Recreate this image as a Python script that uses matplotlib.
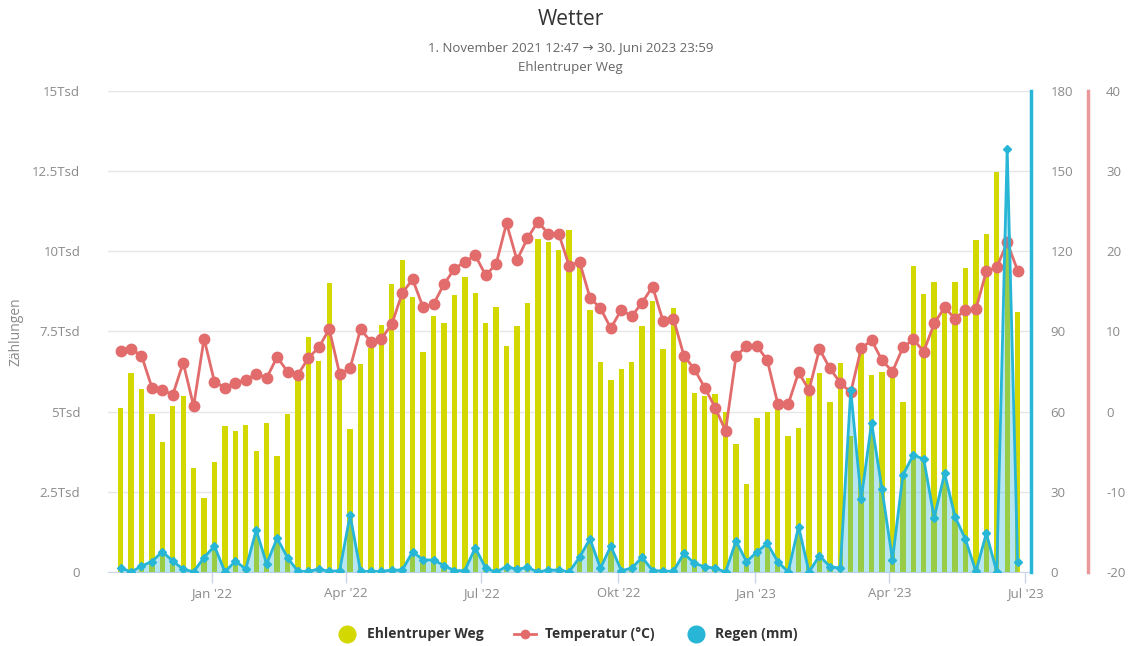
import matplotlib
matplotlib.use("Agg")
import matplotlib.pyplot as plt
from matplotlib.lines import Line2D
import pandas as pd
import numpy as np

plt.rcParams['font.family'] = ['Open Sans', 'DejaVu Sans']
plt.rcParams['axes.unicode_minus'] = False

# ---------------- Daten ----------------
wochen = pd.date_range("2021-11-01", periods=87, freq="7D")

zaehlungen = [5125, 6200, 5710, 4920, 4065, 5180, 5490, 3235, 2300, 3440,
              4555, 4400, 4585, 3785, 4640, 3630, 4920, 6150, 7320, 6580,
              9005, 6200, 4450, 6480, 6975, 7700, 8985, 9730, 8590, 6850,
              7985, 7760, 8640, 9210, 8690, 7760, 8275, 7060, 7670, 8400,
              10385, 10280, 10045, 10670, 9650, 8170, 6560, 5990, 6330, 6560,
              7670, 8450, 6945, 8245, 6850, 5575, 5490, 5540, 5000, 3980,
              2735, 4790, 5000, 5210, 4250, 4480, 6060, 6215, 5290, 6510,
              4240, 6820, 6145, 6250, 6200, 5310, 9555, 8660, 9055, 8150,
              9055, 9470, 10355, 10545, 12465, 10250, 8120]

temperatur = [7.6, 7.8, 7.0, 3.0, 2.7, 2.1, 6.1, 0.7, 9.1, 3.7,
              3.0, 3.6, 4.0, 4.7, 4.2, 6.8, 5.0, 4.6, 6.7, 8.0,
              10.3, 4.7, 5.4, 10.3, 8.7, 9.1, 10.9, 14.8, 16.5, 13.0,
              13.4, 15.9, 17.8, 18.7, 19.5, 17.0, 18.4, 23.5, 18.9, 21.6,
              23.7, 22.2, 22.2, 18.2, 18.7, 14.2, 12.9, 10.4, 12.7, 11.9,
              13.6, 15.6, 11.3, 11.6, 7.0, 5.3, 3.0, 0.5, -2.4, 6.9,
              8.2, 8.2, 6.4, 1.0, 0.9, 4.9, 2.7, 7.8, 5.4, 3.6,
              2.4, 7.9, 8.9, 6.4, 5.0, 8.0, 9.0, 7.5, 11.0, 13.0,
              11.6, 12.7, 12.8, 17.5, 18.0, 21.1, 17.6]

regen = [1.6, 0, 2.2, 3.9, 7.6, 4.1, 1.0, 0.1, 5.4, 9.7,
         0, 4.1, 1.1, 15.7, 3.0, 12.6, 5.4, 0.2, 0.2, 1.1,
         0.2, 0.5, 21.3, 0.2, 0.2, 0.2, 0.7, 0.7, 7.6, 4.5,
         4.5, 2.4, 0.5, 0.5, 9.1, 1.4, 0, 2.0, 1.0, 1.7,
         0, 0.7, 0.7, 0, 5.5, 12.4, 1.4, 9.7, 0.5, 1.4,
         5.5, 0.5, 0.4, 0.2, 7.0, 3.2, 2.0, 1.4, 0, 11.6,
         3.9, 7.4, 10.7, 3.9, 0, 17.0, 0, 6.1, 2.0, 1.4,
         68.1, 27.2, 55.9, 30.9, 4.5, 36.3, 43.8, 42.2, 20.3, 36.9,
         20.7, 12.2, 0.2, 14.5, 0, 158.2, 3.6]

monats_ticks = pd.to_datetime(["2022-01-01", "2022-04-01", "2022-07-01", "2022-10-01",
                               "2023-01-01", "2023-04-01", "2023-07-01"])
monats_labels = ["Jan '22", "Apr '22", "Jul '22", "Okt '22", "Jan '23", "Apr '23", "Jul '23"]

y_ticks = [0, 2500, 5000, 7500, 10000, 12500, 15000]
y_labels = ["0", "2.5Tsd", "5Tsd", "7.5Tsd", "10Tsd", "12.5Tsd", "15Tsd"]

# ---------------- Farben ----------------
gelb = "#d2d800"
rot = "#e26b6b"
blau = "#27b6d6"
grau = "#8a8a8a"

fig = plt.figure(figsize=(11.34, 6.46), dpi=100)
ax = fig.add_axes([0.0952, 0.1146, 0.8140, 0.7446])

ax.bar(wochen, zaehlungen, width=3.6, color=gelb, zorder=2)
ax.set_ylim(0, 15000)
ax.set_yticks(y_ticks)
ax.set_yticklabels(y_labels)
ax.grid(axis="y", color="#e6e6e6", lw=1, zorder=0)
ax.set_axisbelow(True)
ax.set_xlim(wochen[0] - pd.Timedelta(days=8.5), wochen[0] + pd.Timedelta(days=611))
ax.set_xticks(monats_ticks)
ax.set_xticklabels(monats_labels)
ax.tick_params(axis="x", colors="#ccd6eb", length=8, width=1, labelcolor=grau, labelsize=9.5, pad=3)
ax.tick_params(axis="y", length=0, labelcolor=grau, labelsize=9.5, pad=20)
for s in ["top", "right", "left"]:
    ax.spines[s].set_visible(False)
ax.spines["bottom"].set_color("#ccd6eb")
ax.set_ylabel("Zählungen", color=grau, fontsize=10, labelpad=6)

# Temperatur (dritte Achse)
ax3 = ax.twinx()
ax3.plot(wochen, temperatur, color=rot, lw=2, marker="o", ms=7.5, zorder=3)
ax3.set_ylim(-20, 40)
ax3.set_yticks(range(-20, 41, 10))
ax3.spines["right"].set_position(("axes", 1.0618))
ax3.spines["right"].set_color("#e9999a")
ax3.spines["right"].set_linewidth(2.5)
for s in ["top", "left", "bottom"]:
    ax3.spines[s].set_visible(False)
ax3.tick_params(axis="y", length=0, labelcolor=grau, labelsize=9.5, pad=13)

# Regen
ax2 = ax.twinx()
ax2.fill_between(wochen, regen, 0, color=blau, alpha=0.33, lw=0, zorder=1)
ax2.plot(wochen, regen, color=blau, lw=2, marker="D", ms=4.5, zorder=4)
ax2.set_ylim(0, 180)
ax2.set_yticks(range(0, 181, 30))
ax2.spines["right"].set_color(blau)
ax2.spines["right"].set_linewidth(2.5)
for s in ["top", "left", "bottom"]:
    ax2.spines[s].set_visible(False)
ax2.tick_params(axis="y", length=0, labelcolor=grau, labelsize=9.5, pad=14)

# Titel
fig.text(0.503, 0.97, "Wetter", ha="center", va="center", fontsize=15, color="#333333")
fig.text(0.503, 0.926, "1. November 2021 12:47 → 30. Juni 2023 23:59", ha="center", va="center",
         fontsize=9.5, color="#666666")
fig.text(0.503, 0.895, "Ehlentruper Weg", ha="center", va="center", fontsize=9.5, color="#666666")

# Legende
handles = [
    Line2D([], [], ls="none", marker="o", ms=12, color=gelb),
    Line2D([], [], color=rot, lw=2, marker="o", ms=6),
    Line2D([], [], ls="none", marker="o", ms=12, color=blau),
]
labels = ["Ehlentruper Weg", "Temperatur (°C)", "Regen (mm)"]
leg = fig.legend(handles, labels, loc="center", bbox_to_anchor=(0.5, 0.018), ncol=3, frameon=False,
                 prop={"weight": "bold", "size": 10}, handlelength=1.6, columnspacing=2.2,
                 handletextpad=0.6)
for t in leg.get_texts():
    t.set_color("#333333")

fig.savefig("out.png", dpi=100)
